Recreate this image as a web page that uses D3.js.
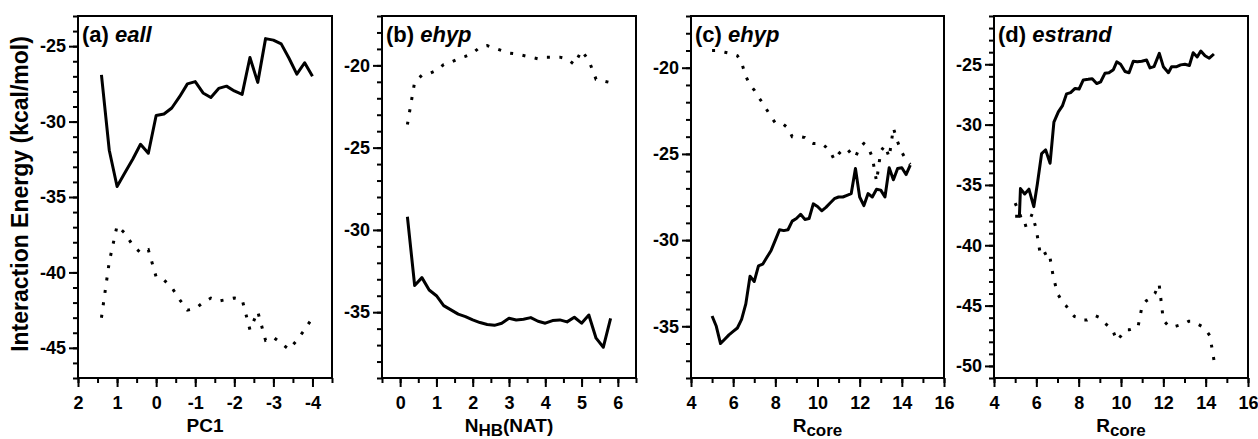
<!DOCTYPE html>
<html>
<head>
<meta charset="utf-8">
<script src="https://cdnjs.cloudflare.com/ajax/libs/d3/7.8.5/d3.min.js"></script>
<style>
  body { margin: 0; background: #fff; }
  svg text { font-family: "Liberation Sans", Arial, sans-serif; font-weight: bold; fill: #000; }
</style>
</head>
<body>
<svg id="chart" width="1258" height="439"></svg>
<script>
// ---- data ----
// (a) eall vs PC1
var pc1 = [1.4, 1.2, 1.0, 0.8, 0.6, 0.4, 0.2, 0, -0.2, -0.4, -0.6, -0.8, -1.0, -1.2,
           -1.4, -1.6, -1.8, -2.0, -2.2, -2.4, -2.6, -2.8, -3.0, -3.2, -3.4, -3.6, -3.8, -4.0];
var eallSolid = [-26.9, -31.9, -34.3, -33.4, -32.5, -31.5, -32.1, -29.6, -29.5, -29.1, -28.35, -27.5, -27.35, -28.1,
                 -28.4, -27.8, -27.65, -27.97, -28.2, -25.75, -27.4, -24.5, -24.6, -24.85, -25.8, -26.85, -26.1, -27.0];
var eallDotted = [-43.0, -39.3, -36.9, -37.4, -38.2, -38.7, -38.5, -40.3, -40.5, -41.0, -41.8, -42.5, -42.4, -42.0,
                  -41.7, -41.9, -41.8, -41.7, -41.8, -43.8, -42.6, -44.5, -44.3, -44.7, -45.1, -44.5, -43.8, -43.0];

// (b) ehyp vs N_HB(NAT)
var nhb = [0.2, 0.4, 0.6, 0.8, 1.0, 1.2, 1.4, 1.6, 1.8, 2.0, 2.2, 2.4, 2.6, 2.8, 3.0,
           3.2, 3.4, 3.6, 3.8, 4.0, 4.2, 4.4, 4.6, 4.8, 5.0, 5.2, 5.4, 5.6, 5.8];
var ehypNhbSolid = [-29.2, -33.38, -32.9, -33.65, -34.0, -34.6, -34.86, -35.12, -35.27, -35.47, -35.63, -35.75, -35.8, -35.67, -35.37,
                    -35.47, -35.43, -35.33, -35.55, -35.67, -35.51, -35.47, -35.59, -35.31, -35.67, -35.17, -36.58, -37.13, -35.37];
var ehypNhbDotted = [-23.6, -21.0, -20.6, -20.5, -20.3, -19.95, -19.8, -19.6, -19.45, -19.25, -18.9, -18.8, -18.95, -19.1, -19.25,
                     -19.3, -19.4, -19.5, -19.6, -19.5, -19.5, -19.5, -19.6, -19.95, -19.1, -19.7, -20.85, -20.95, -21.05];

// (c) ehyp vs R_core
var rcore = [5.0, 5.2, 5.4, 5.6, 5.8, 6.0, 6.2, 6.4, 6.6, 6.8, 7.0, 7.2, 7.4, 7.6, 7.8, 8.0,
             8.2, 8.4, 8.6, 8.8, 9.0, 9.2, 9.4, 9.6, 9.8, 10.0, 10.2, 10.4, 10.6, 10.8, 11.0, 11.2,
             11.4, 11.6, 11.8, 12.0, 12.2, 12.4, 12.6, 12.8, 13.0, 13.2, 13.4, 13.6, 13.8, 14.0, 14.2, 14.4];
var ehypRcoreSolid = [-34.4, -35.0, -36.0, -35.75, -35.5, -35.3, -35.1, -34.6, -33.7, -32.1, -32.4, -31.5, -31.4, -31.0, -30.6, -30.0,
                      -29.4, -29.45, -29.4, -28.9, -28.75, -28.5, -28.8, -28.75, -27.9, -28.05, -28.3, -28.1, -27.85, -27.6, -27.5, -27.5,
                      -27.4, -27.3, -25.85, -27.5, -28.0, -27.3, -27.5, -27.05, -27.1, -27.5, -25.8, -26.5, -25.85, -25.8, -26.2, -25.65];
var ehypRcoreDotted = [-19.0, -19.0, -19.05, -19.1, -19.15, -19.2, -19.3, -19.7, -20.5, -21.0, -21.3, -21.7, -22.05, -22.45, -22.85, -23.2,
                       -23.3, -23.3, -23.5, -24.0, -24.0, -24.0, -24.05, -24.3, -24.4, -24.4, -24.4, -24.6, -24.85, -25.35, -25.0, -24.75,
                       -24.7, -25.0, -25.2, -24.6, -24.4, -24.6, -25.2, -26.6, -24.85, -24.5, -25.2, -23.5, -24.3, -24.9, -25.35, -25.6];

// (d) estrand vs R_core
var rcoreStrand = [5.0, 5.2, 5.25, 5.45, 5.65, 5.88, 6.05, 6.25, 6.44, 6.65, 6.83, 7.04, 7.23, 7.43, 7.62, 7.83, 8.02,
                   8.22, 8.45, 8.64, 8.85, 9.04, 9.24, 9.43, 9.64, 9.8, 9.98, 10.19, 10.38, 10.58, 10.77, 10.98, 11.21,
                   11.37, 11.56, 11.81, 12.0, 12.24, 12.39, 12.63, 12.82, 13.02, 13.23, 13.41, 13.6, 13.77, 13.97, 14.17, 14.39];
var estrandSolid = [-37.6, -37.6, -35.3, -35.75, -35.35, -36.8, -34.9, -32.4, -32.1, -33.2, -29.8, -28.95, -28.45, -27.45, -27.35, -27.0, -27.05,
                    -26.3, -26.25, -26.2, -26.6, -26.45, -25.75, -25.7, -25.45, -24.8, -25.0, -25.6, -25.7, -24.75, -24.8, -24.75, -24.65,
                    -25.3, -25.2, -24.1, -25.2, -25.7, -25.2, -25.2, -25.05, -25.0, -25.1, -24.05, -24.4, -23.9, -24.3, -24.5, -24.15];
var estrandDotted = [-36.5, -37.3, -38.4, -38.3, -37.4, -38.7, -40.9, -40.7, -40.55, -42.6, -44.0, -44.6, -45.0, -45.5, -45.9, -46.0,
                     -46.2, -46.2, -46.0, -45.85, -46.0, -46.4, -46.7, -47.0, -47.9, -47.5, -47.0, -47.0, -46.9, -46.8, -45.0, -44.6,
                     -44.4, -44.0, -43.2, -46.2, -46.6, -46.8, -46.7, -46.6, -46.5, -46.3, -46.3, -46.5, -46.7, -47.0, -47.5, -49.6];

// tick labels
var ticksPC1 = [2, 1, 0, -1, -2, -3, -4];
var ticksNHB = [0, 1, 2, 3, 4, 5, 6];
var ticksRcore = [4, 6, 8, 10, 12, 14, 16];
var ticksEA = [-25, -30, -35, -40, -45];
var ticksEB = [-20, -25, -30, -35];
var ticksEC = [-20, -25, -30, -35];
var ticksED = [-25, -30, -35, -40, -45, -50];

var svg = d3.select("#chart");

var panels = [
	{ left: 78, right: 332, xDomain: [2, -4.5], yDomain: [-47, -23], xTicks: ticksPC1, xMinorStep: 0.5, yTicks: ticksEA,
	  label: "(a)", name: "eall", xs: pc1, solid: eallSolid, xsDot: pc1, dotted: eallDotted, xTitle: ["PC1"] },
	{ left: 382, right: 636, xDomain: [-0.5, 6.5], yDomain: [-39, -17], xTicks: ticksNHB, xMinorStep: 0.5, yTicks: ticksEB,
	  label: "(b)", name: "ehyp", xs: nhb, solid: ehypNhbSolid, xsDot: nhb, dotted: ehypNhbDotted, xTitle: ["N", "HB", "(NAT)"] },
	{ left: 691, right: 944, xDomain: [4, 16], yDomain: [-38, -17], xTicks: ticksRcore, xMinorStep: 1, yTicks: ticksEC,
	  label: "(c)", name: "ehyp", xs: rcore, solid: ehypRcoreSolid, xsDot: rcore, dotted: ehypRcoreDotted, xTitle: ["R", "core"] },
	{ left: 994, right: 1248, xDomain: [4, 16], yDomain: [-51, -21], xTicks: ticksRcore, xMinorStep: 1, yTicks: ticksED,
	  label: "(d)", name: "estrand", xs: rcoreStrand, solid: estrandSolid, xsDot: rcore, dotted: estrandDotted, xTitle: ["R", "core"] }
];

var plotTop = 16, plotBottom = 378;

function styleAxis(sel, size) {
	sel.select(".domain").remove();
	sel.attr("font-size", size).attr("font-family", null);
	sel.selectAll(".tick line").attr("stroke-width", 2);
}

function drawPanel(p) {
	var x = d3.scaleLinear().domain(p.xDomain).range([p.left, p.right]);
	var y = d3.scaleLinear().domain(p.yDomain).range([plotBottom, plotTop]);
	var g = svg.append("g");

	var xLo = Math.min(p.xDomain[0], p.xDomain[1]), xHi = Math.max(p.xDomain[0], p.xDomain[1]);
	var xMinor = d3.range(xLo, xHi + 1e-9, p.xMinorStep);
	var yMinor = d3.range(p.yDomain[0], p.yDomain[1] + 1e-9, 1);

	// minor ticks
	g.append("g")
		.attr("transform", "translate(0," + plotBottom + ")")
		.call(d3.axisBottom(x).tickValues(xMinor).tickSize(5).tickFormat(""))
		.call(styleAxis, 18);
	g.append("g")
		.attr("transform", "translate(" + p.left + ",0)")
		.call(d3.axisLeft(y).tickValues(yMinor).tickSize(5).tickFormat(""))
		.call(styleAxis, 18);

	// major ticks with labels
	g.append("g")
		.attr("transform", "translate(0," + plotBottom + ")")
		.call(d3.axisBottom(x).tickValues(p.xTicks).tickSize(9).tickPadding(9).tickFormat(function(d) { return String(d); }))
		.call(styleAxis, 18);
	g.append("g")
		.attr("transform", "translate(" + p.left + ",0)")
		.call(d3.axisLeft(y).tickValues(p.yTicks).tickSize(9).tickPadding(3).tickFormat(function(d) { return String(d); }))
		.call(styleAxis, 18);

	// frame
	g.append("rect")
		.attr("x", p.left)
		.attr("y", plotTop)
		.attr("width", p.right - p.left)
		.attr("height", plotBottom - plotTop)
		.attr("fill", "none")
		.attr("stroke", "#000")
		.attr("stroke-width", 2);

	var line = d3.line()
		.x(function(d) { return x(d[0]); })
		.y(function(d) { return y(d[1]); });

	// dotted series
	g.append("path")
		.datum(d3.zip(p.xsDot, p.dotted))
		.attr("d", line)
		.attr("fill", "none")
		.attr("stroke", "#000")
		.attr("stroke-width", 3)
		.attr("stroke-dasharray", "3 9.5");

	// solid series
	g.append("path")
		.datum(d3.zip(p.xs, p.solid))
		.attr("d", line)
		.attr("fill", "none")
		.attr("stroke", "#000")
		.attr("stroke-width", 3)
		.attr("stroke-linejoin", "round");

	// panel label
	var t = g.append("text")
		.attr("x", p.left + 4)
		.attr("y", 42)
		.attr("font-size", 22);
	t.append("tspan").text(p.label + "\u00a0");
	t.append("tspan").attr("font-style", "italic").text(p.name);

	// x title
	var cx = (p.left + p.right) / 2;
	var xt = g.append("text")
		.attr("x", cx)
		.attr("y", 432)
		.attr("text-anchor", "middle")
		.attr("font-size", 19);
	xt.append("tspan").text(p.xTitle[0]);
	if (p.xTitle.length > 1) {
		xt.append("tspan").attr("dy", 4).attr("font-size", 17).text(p.xTitle[1]);
	}
	if (p.xTitle.length > 2) {
		xt.append("tspan").attr("dy", -4).text(p.xTitle[2]);
	}
}

panels.forEach(drawPanel);

// shared y title
svg.append("text")
	.attr("transform", "translate(28,194) rotate(-90)")
	.attr("text-anchor", "middle")
	.attr("font-size", 23)
	.text("Interaction Energy (kcal/mol)");
</script>
</body>
</html>
